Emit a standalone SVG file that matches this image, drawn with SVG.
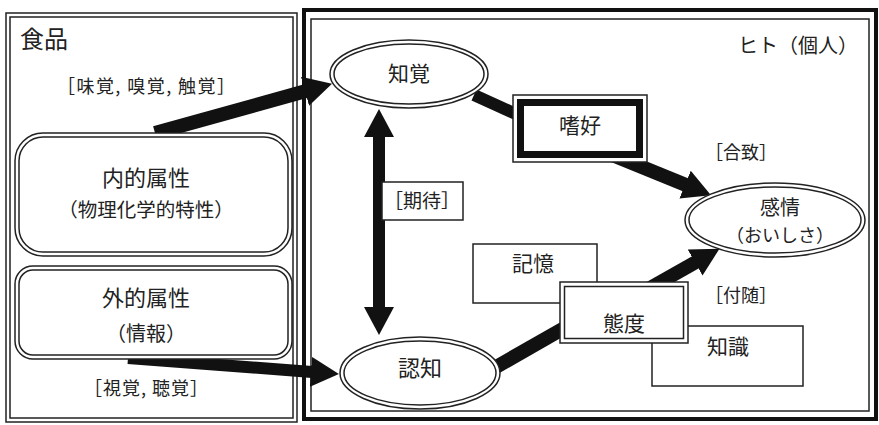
<svg xmlns="http://www.w3.org/2000/svg" width="879" height="425" viewBox="0 0 879 425">
<style>
text{font-family:"Noto Sans CJK JP","Noto Sans",sans-serif;fill:#222;text-anchor:middle;font-size:19px}
.ln{fill:none;stroke:#222;stroke-width:1.5}
.box{fill:#fff;stroke:#222;stroke-width:1.5}
.shaft{stroke:#111;fill:none;stroke-linecap:butt}
</style>
<defs>
<marker id="ah" markerUnits="userSpaceOnUse" viewBox="0 0 30 30" markerWidth="30" markerHeight="30" refX="1" refY="15" orient="auto-start-reverse">
<path d="M0,0 L28,15 L0,30 z" fill="#111"/>
</marker>
</defs>
<rect width="879" height="425" fill="#fff"/>

<g id="food-panel">
<rect class="ln" x="6" y="13" width="291" height="409"/>
<rect class="ln" x="10" y="17" width="283" height="401"/>
<text x="20" y="48" style="text-anchor:start;font-size:24px">食品</text>
<text x="146" y="93" style="font-size:18px" textLength="178" lengthAdjust="spacing">［味覚, 嗅覚, 触覚］</text>
<text x="146" y="395" style="font-size:18px" textLength="124" lengthAdjust="spacing">［視覚, 聴覚］</text>
</g>

<g id="human-panel">
<rect x="304" y="10" width="572" height="409" fill="none" stroke="#111" stroke-width="4"/>
<rect class="ln" x="311" y="19" width="558" height="392"/>
<text x="858" y="53" style="text-anchor:end;font-size:20px">ヒト（個人）</text>
<text x="741" y="159" style="font-size:18px">［合致］</text>
<text x="741" y="302" style="font-size:18px">［付随］</text>
</g>

<g id="connectors">
<line class="shaft" x1="155" y1="133" x2="306" y2="91" stroke-width="14" marker-end="url(#ah)"/>
<line class="shaft" x1="128" y1="358" x2="312" y2="372" stroke-width="12" marker-end="url(#ah)"/>
<line class="shaft" x1="474" y1="95" x2="518" y2="115" stroke-width="12"/>
<line class="shaft" x1="605" y1="152" x2="686" y2="185" stroke-width="14" marker-end="url(#ah)"/>
<line class="shaft" x1="496" y1="367" x2="566" y2="327" stroke-width="14"/>
<line class="shaft" x1="650" y1="288" x2="696" y2="262" stroke-width="14" marker-end="url(#ah)"/>
<line class="shaft" x1="379" y1="136" x2="379" y2="308" stroke-width="12" marker-start="url(#ah)" marker-end="url(#ah)"/>
</g>

<g id="intrinsic">
<rect class="box" x="15" y="133" width="277" height="123" rx="28"/>
<rect class="ln" x="19" y="137" width="269" height="115" rx="24" stroke-width="2"/>
<text x="146" y="186" style="font-size:22px">内的属性</text>
<text x="146" y="217" style="font-size:19.5px">（物理化学的特性）</text>
</g>

<g id="extrinsic">
<rect class="box" x="15" y="266" width="277" height="93" rx="18"/>
<rect class="ln" x="19" y="270" width="269" height="85" rx="14" stroke-width="2"/>
<text x="146" y="306" style="font-size:22px">外的属性</text>
<text x="146" y="341" style="font-size:20px">（情報）</text>
</g>

<g id="perception">
<ellipse class="box" cx="409" cy="74" rx="79" ry="34" stroke-width="2"/>
<ellipse class="ln" cx="409" cy="74" rx="75" ry="30"/>
<text x="409" y="81" style="font-size:21px">知覚</text>
</g>

<g id="cognition">
<ellipse class="box" cx="420" cy="373" rx="80" ry="36" stroke-width="2"/>
<ellipse class="ln" cx="420" cy="373" rx="76" ry="32"/>
<text x="420" y="376" style="font-size:22px">認知</text>
</g>

<g id="emotion">
<ellipse class="box" cx="775" cy="220" rx="90" ry="37" stroke-width="2"/>
<ellipse class="ln" cx="775" cy="220" rx="86" ry="33"/>
<text x="780" y="215" style="font-size:20px">感情</text>
<text x="780" y="242" style="font-size:18px">（おいしさ）</text>
</g>

<g id="preference">
<rect class="box" x="513" y="95" width="134" height="67"/>
<rect x="520.5" y="102.5" width="119" height="52" fill="none" stroke="#111" stroke-width="7"/>
<text x="580" y="133" style="font-size:21px">嗜好</text>
</g>

<g id="expectation">
<rect class="box" x="382" y="182" width="81" height="38"/>
<text x="422" y="208" style="font-size:19px">［期待］</text>
</g>

<g id="memory">
<rect class="box" x="473" y="244" width="124" height="59"/>
<text x="533" y="271" style="font-size:21px">記憶</text>
</g>

<g id="knowledge">
<rect class="box" x="652" y="326" width="151" height="60"/>
<text x="728" y="354" style="font-size:21px">知識</text>
</g>

<g id="attitude">
<rect class="box" x="560" y="282" width="128" height="61"/>
<rect class="ln" x="564.5" y="286.5" width="119" height="52" stroke-width="2"/>
<text x="624" y="331" style="font-size:21px">態度</text>
</g>
</svg>
